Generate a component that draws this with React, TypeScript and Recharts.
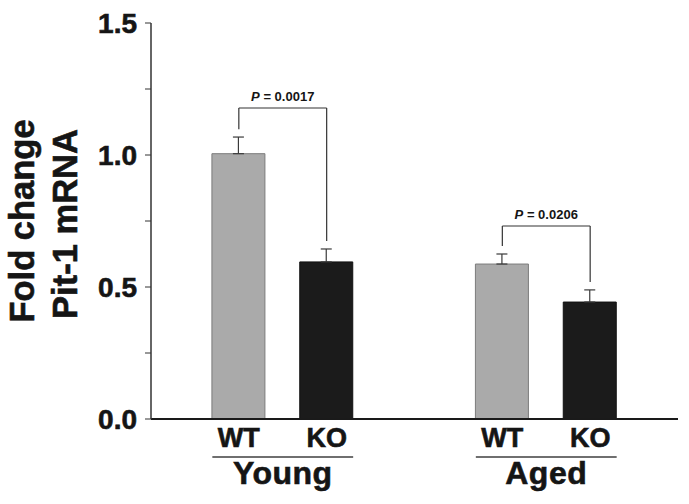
import React from 'react';
import {
  BarChart,
  Bar,
  Cell,
  ErrorBar,
  XAxis,
  YAxis,
  ReferenceLine,
} from 'recharts';

// values
const conditions = ['WT', 'KO', 'WT', 'KO'];
const positions = [1, 2, 4, 5];
const means = [1.005, 0.595, 0.587, 0.443];
const sems = [0.063, 0.049, 0.038, 0.046];

const groups = ['Young', 'Aged'];
const groupPositions = [1.5, 4.5];

const pValues = ['0.0017', '0.0206'];
const bracketLevels = [1.178, 0.731];

const yTicks = [0, 0.25, 0.5, 0.75, 1, 1.25, 1.5];

const FONT = '"Liberation Sans", Arial, Helvetica, sans-serif';
const INK = '#151515';
const W = 689;
const H = 504;
const MARGIN = { top: 23, right: 11, bottom: 0, left: 0 };
const Y_AXIS_W = 151;
const BAR_SIZE = 53;
const X_DOMAIN: [number, number] = [0, 6];
const GAP = 0.03;

const colorFor = (c: string) => (c === 'WT' ? '#aaaaaa' : '#1b1b1b');
const strokeFor = (c: string) => (c === 'WT' ? '#7c7c7c' : '#111111');

const data = positions.map((pos, i) => ({
  pos,
  cond: conditions[i],
  mean: means[i],
  err: [0, sems[i]],
}));

const plotWidth = W - MARGIN.left - Y_AXIS_W - MARGIN.right;
const unit = plotWidth / (X_DOMAIN[1] - X_DOMAIN[0]);

const heavy = { stroke: INK, strokeWidth: 0.6 };

const GroupTick = (props: any) => {
  const { x, y, payload } = props;
  const idx = groupPositions.indexOf(payload.value);
  const half = unit / 2 + BAR_SIZE / 2;
  return (
    <g>
      <line x1={x - half} x2={x + half} y1={y} y2={y} stroke="#6f6f6f" strokeWidth={2} />
      <text
        x={x}
        y={y + 27}
        textAnchor="middle"
        fontFamily={FONT}
        fontWeight="bold"
        fontSize={32}
        letterSpacing={0.5}
        fill={INK}
        {...heavy}
      >
        {groups[idx]}
      </text>
    </g>
  );
};

const YTitle = (props: any) => {
  const { viewBox } = props;
  const cy = viewBox.y + viewBox.height / 2;
  return (
    <g fontFamily={FONT} fontWeight="bold" fontSize={34.5} fill={INK} {...heavy}>
      <text x={34} y={cy} transform={`rotate(-90, 34, ${cy})`} textAnchor="middle">
        Fold change
      </text>
      <text x={77} y={cy + 3} transform={`rotate(-90, 77, ${cy + 3})`} textAnchor="middle">
        Pit-1 mRNA
      </text>
    </g>
  );
};

const bracketLabel = (p: string) => (props: any) => {
  const { viewBox } = props;
  const cx = viewBox.x + viewBox.width / 2;
  return (
    <text
      x={cx}
      y={viewBox.y - 7}
      textAnchor="middle"
      fontFamily={FONT}
      fontWeight="bold"
      fontSize={13}
      fill={INK}
    >
      <tspan fontStyle="italic">P</tspan> = {p}
    </text>
  );
};

export default function App() {
  const top = (i: number) => means[i] + sems[i] + GAP;
  return (
    <div style={{ width: W, height: H }}>
      <style>{'body{margin:0}'}</style>
      <BarChart width={W} height={H} data={data} margin={MARGIN} barSize={BAR_SIZE}>
        <XAxis
          dataKey="pos"
          type="number"
          domain={X_DOMAIN}
          ticks={positions}
          tickFormatter={(v: number) => conditions[positions.indexOf(v)]}
          tickLine={false}
          tickMargin={3}
          height={38}
          axisLine={{ stroke: '#1a1a1a', strokeWidth: 2 }}
          tick={{ fontFamily: FONT, fontWeight: 'bold', fontSize: 27, fill: INK, ...heavy }}
          interval={0}
        />
        <XAxis
          xAxisId="grp"
          dataKey="pos"
          type="number"
          domain={X_DOMAIN}
          ticks={groupPositions}
          axisLine={false}
          tickLine={false}
          tickSize={0}
          tickMargin={0}
          height={47}
          tick={<GroupTick />}
          interval={0}
        />
        <XAxis
          xAxisId="top"
          orientation="top"
          dataKey="pos"
          type="number"
          domain={X_DOMAIN}
          tick={false}
          tickLine={false}
          height={0}
          axisLine={{ stroke: '#1a1a1a', strokeWidth: 1.5 }}
        />
        <YAxis
          domain={[0, 1.5]}
          ticks={yTicks}
          width={Y_AXIS_W}
          tickSize={6}
          tickMargin={8}
          interval={0}
          tickFormatter={(v: number) => (v * 2 === Math.round(v * 2) ? v.toFixed(1) : '')}
          axisLine={{ stroke: '#333', strokeWidth: 1.5 }}
          tickLine={{ stroke: '#333', strokeWidth: 1 }}
          tick={{ fontFamily: FONT, fontWeight: 'bold', fontSize: 28, fill: INK, ...heavy }}
          label={<YTitle />}
        />
        <YAxis
          yAxisId="right"
          orientation="right"
          domain={[0, 1.5]}
          tick={false}
          tickLine={false}
          width={0}
          axisLine={{ stroke: '#1a1a1a', strokeWidth: 1.5 }}
        />
        <Bar dataKey="mean" isAnimationActive={false}>
          {data.map((d, i) => (
            <Cell key={i} fill={colorFor(d.cond)} stroke={strokeFor(d.cond)} strokeWidth={1} />
          ))}
          <ErrorBar
            dataKey="err"
            direction="y"
            width={5.5}
            stroke="#3a3a3a"
            strokeWidth={1.2}
            isAnimationActive={false}
          />
        </Bar>
        {pValues.map((p, g) => {
          const a = g * 2;
          const b = g * 2 + 1;
          const lvl = bracketLevels[g];
          return (
            <React.Fragment key={g}>
              <ReferenceLine
                segment={[{ x: positions[a], y: top(a) }, { x: positions[a], y: lvl }]}
                stroke="#333"
                strokeWidth={1.2}
                ifOverflow="visible"
              />
              <ReferenceLine
                segment={[{ x: positions[b], y: top(b) }, { x: positions[b], y: lvl }]}
                stroke="#333"
                strokeWidth={1.2}
                ifOverflow="visible"
              />
              <ReferenceLine
                segment={[{ x: positions[a], y: lvl }, { x: positions[b], y: lvl }]}
                stroke="#333"
                strokeWidth={1.2}
                ifOverflow="visible"
                label={bracketLabel(p)}
              />
            </React.Fragment>
          );
        })}
      </BarChart>
    </div>
  );
}
